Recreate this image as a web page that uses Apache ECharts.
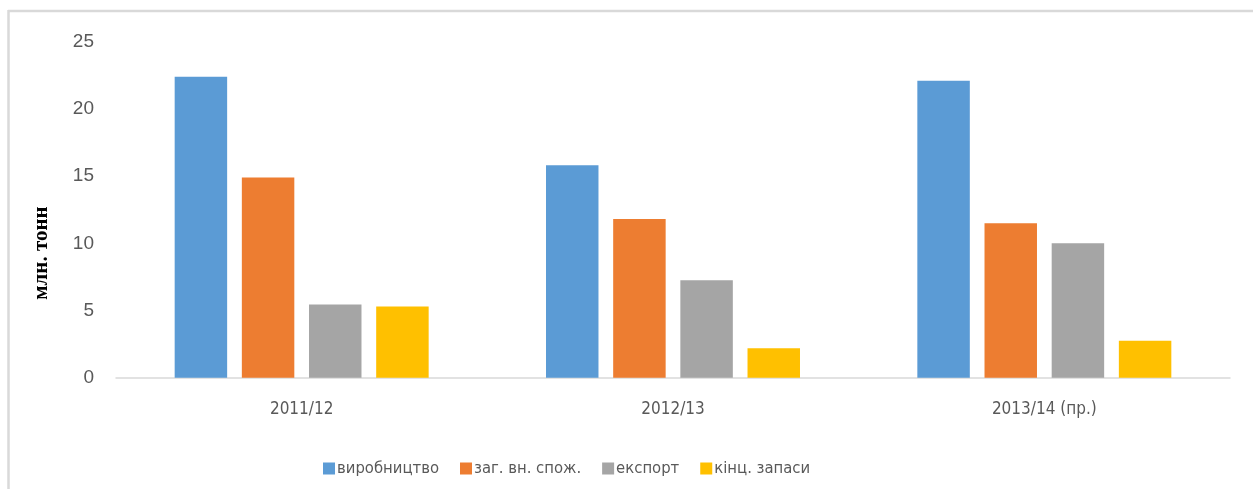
<!DOCTYPE html>
<html><head><meta charset="utf-8">
<script src="https://cdn.jsdelivr.net/npm/echarts@6/dist/echarts.min.js"></script>
<style>html,body{margin:0;padding:0;background:#fff}#c{width:1253px;height:489px}</style>
</head><body><div id="c"></div>
<script>
const categories = ['2011/12', '2012/13', '2013/14 (пр.)'];
const seriesNames = ['виробництво', 'заг. вн. спож.', 'експорт', 'кінц. запаси'];
const production = [22.4, 15.8, 22.1];
const domesticUse = [14.9, 11.8, 11.5];
const exportVals = [5.45, 7.25, 10.0];
const endStocks = [5.3, 2.2, 2.75];
const yTicks = [0, 5, 10, 15, 20, 25];
const colors = ['#5B9BD5', '#ED7D31', '#A5A5A5', '#FFC000'];
const values = [production, domesticUse, exportVals, endStocks];

const narrow = "'Liberation Sans Narrow','DejaVu Sans Condensed','Roboto Condensed','Liberation Sans',sans-serif";
const chart = echarts.init(document.getElementById('c'), null, {renderer: 'canvas'});
chart.setOption({
  animation: false,
  color: colors,
  grid: {left: 116, right: 23, top: 41.7, bottom: 111.3},
  legend: {
    data: seriesNames, top: 455, left: 318, itemWidth: 12, itemHeight: 12, itemGap: 21,
    icon: 'rect',
    textStyle: {color: '#595959', fontSize: 16.5, fontFamily: narrow, padding: [0,0,0,-3]}
  },
  xAxis: {
    type: 'category', data: categories,
    axisLine: {lineStyle: {color: '#d9d9d9', width: 1.5}},
    axisTick: {show: false},
    axisLabel: {color: '#595959', fontSize: 17, fontFamily: narrow, margin: 23}
  },
  yAxis: {
    type: 'value', min: 0, max: 25, interval: 5,
    axisLine: {show: false}, axisTick: {show: false}, splitLine: {show: false},
    axisLabel: {color: '#595959', fontSize: 19, fontFamily: "'Liberation Sans','Open Sans',sans-serif", margin: 22,
      formatter: v => yTicks.includes(v) ? String(v) : ''}
  },
  series: seriesNames.map((n, i) => ({
    name: n, type: 'bar', data: values[i], barGap: '28%', barCategoryGap: '31.6%',
    itemStyle: {color: colors[i]}
  })),
  graphic: [
    {type: 'line', shape: {x1: 8, y1: 11, x2: 1253, y2: 11}, style: {stroke: '#d9d9d9', lineWidth: 2.5}, silent: true},
    {type: 'line', shape: {x1: 8.5, y1: 10, x2: 8.5, y2: 489}, style: {stroke: '#d9d9d9', lineWidth: 2.5}, silent: true},
    {type: 'text', x: 42, y: 253, rotation: Math.PI / 2, silent: true,
     style: {text: 'млн. тонн', fontSize: 21, fontWeight: 'bold', fontFamily: "'Liberation Serif','DejaVu Serif',serif",
       fill: '#000', align: 'center', verticalAlign: 'middle'}}
  ]
});
</script></body></html>
